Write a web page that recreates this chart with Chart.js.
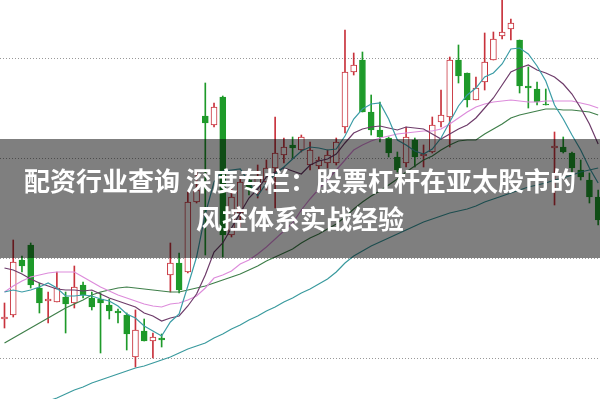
<!DOCTYPE html>
<html>
<head>
<meta charset="utf-8">
<script src="https://cdn.jsdelivr.net/npm/chart.js@4"></script>
<style>
  body { margin: 0; background: #fff; }
  #wrap { position: relative; width: 600px; height: 399px; overflow: hidden; }
  #band {
    position: absolute; left: 0; top: 139px; width: 600px; height: 119px;
    background: rgba(0, 0, 0, 0.5); color: #fff;
    font: bold 26px "Noto Sans CJK SC", sans-serif; line-height: 38px;
    text-align: center; display: flex; flex-direction: column; justify-content: center;
  }
</style>
</head>
<body>
<div id="wrap">
  <canvas id="kline" width="600" height="399"></canvas>
  <div id="band">
    <div>配资行业查询 深度专栏：股票杠杆在亚太股市的</div>
    <div>风控体系实战经验</div>
  </div>
</div>
<script>
const days = [...Array(69).keys()];   // trading day index, left to right

const opens = [1039,1043,1098,1113,1070,1057,1056,1061,1055,1073, 1060,1059,1053,1047,1043,1001,1027,1017,1020,1083,
  1095,1086,1156,1242,1233,1261,1123,1145,1178,1166, 1176,1190,1203,1213,1208,1193,1192,1195,1195,1231,
  1286,1298,1246,1228,1220,1201,1195,1218,1202,1206, 1236,1241,1298,1285,1258,1276,1298,1322,1329,1318,
  1272,1269,1254,1210,1211,1205,1188,1178,1161];
const closes = [1041,1096,1092,1073,1055,1059,1070,1054,1071,1063, 1051,1055,1047,1045,1024,1028,1017,1021,1018,1095,
  1068,1156,1168,1235,1251,1123,1161,1176,1168,1180, 1190,1205,1211,1210,1221,1208,1198,1203,1216,1286,
  1293,1246,1228,1221,1205,1188,1221,1201,1204,1233, 1243,1298,1282,1258,1270,1296,1319,1326,1335,1272,
  1270,1256,1253,1212,1206,1190,1181,1161,1138];
const highs = [1055,1118,1102,1115,1075,1066,1086,1066,1092,1076, 1066,1065,1059,1049,1045,1048,1039,1025,1024,1115,
  1105,1166,1186,1275,1255,1262,1171,1181,1186,1193, 1198,1241,1220,1221,1223,1216,1201,1208,1220,1328,
  1305,1306,1263,1256,1221,1206,1231,1220,1213,1241, 1268,1301,1313,1285,1281,1325,1326,1365,1339,1318,
  1291,1276,1269,1226,1221,1206,1198,1185,1168];
const lows = [1030,1041,1086,1070,1045,1035,1056,1025,1050,1060, 1048,1005,1039,1035,1008,991,1017,1000,1011,1066,
  1065,1085,1155,1103,1231,1101,1121,1131,1163,1160, 1168,1150,1195,1200,1206,1188,1188,1190,1193,1225,
  1283,1246,1223,1216,1201,1186,1191,1191,1191,1205, 1231,1211,1275,1251,1258,1268,1298,1319,1318,1265,
  1250,1253,1253,1153,1205,1185,1178,1155,1133];

const ma5 = [1066,1068,1066,1068,1071,1075,1070,1062,1062,1063, 1062,1059,1057,1052,1044,1040,1032,1027,1022,1036,
  1044,1072,1101,1144,1176,1187,1188,1189,1176,1162, 1175,1184,1191,1199,1207,1211,1210,1208,1209,1222,
  1239,1249,1254,1255,1239,1218,1213,1207,1204,1209, 1220,1236,1252,1263,1270,1281,1285,1294,1309,1310,
  1304,1292,1277,1253,1239,1223,1208,1190,1175];
const ma10 = [1090,1088,1084,1079,1075,1072,1069,1068,1068,1067, 1068,1064,1060,1057,1054,1051,1045,1042,1037,1040,
  1042,1052,1064,1083,1106,1115,1130,1145,1160,1169, 1181,1186,1190,1187,1184,1193,1197,1199,1204,1215,
  1225,1229,1231,1232,1230,1228,1231,1230,1229,1224, 1219,1224,1229,1233,1240,1250,1260,1273,1286,1290,
  1293,1288,1285,1281,1274,1264,1250,1234,1214];
const ma20 = [1066,1072,1077,1081,1083,1085,1086,1086,1086,1081, 1076,1071,1067,1063,1060,1057,1054,1052,1051,1054,
  1055,1058,1062,1070,1080,1083,1087,1094,1098,1104, 1111,1119,1127,1135,1148,1159,1169,1178,1188,1198,
  1208,1213,1217,1220,1222,1224,1225,1226,1227,1227, 1229,1234,1240,1246,1251,1254,1256,1257,1258,1257,
  1256,1256,1257,1257,1257,1257,1255,1253,1250];
const ma30 = [1015,1020,1025,1030,1035,1040,1045,1050,1054,1058, 1063,1066,1068,1070,1071,1070,1069,1068,1067,1066,
  1066,1068,1070,1072,1075,1078,1081,1084,1088,1092, 1097,1101,1105,1109,1115,1120,1124,1129,1134,1141,
  1149,1156,1162,1167,1173,1179,1186,1192,1198,1202, 1208,1213,1217,1218,1218,1224,1229,1234,1240,1243,
  1245,1247,1249,1249,1248,1248,1247,1246,1243];
const ma60 = [938,942,945,949,953,957,960,964,968,971, 975,978,981,984,987,990,992,995,998,1001,
  1005,1009,1012,1015,1020,1024,1029,1033,1038,1042, 1047,1051,1056,1060,1065,1069,1074,1079,1086,1095,
  1102,1107,1112,1116,1120,1124,1128,1132,1136,1139, 1142,1145,1147,1149,1152,1156,1159,1162,1165,1168,
  1171,1173,1175,1178,1180,1183,1186,1188,1190];

const gridVals = [1000, 1100, 1200, 1300];

const RED = '#c8323c';
const GREEN = '#1e9a2a';
const isUp = i => closes[i] >= opens[i];

function maLine(data, color) {
  return {
    type: 'line',
    data: days.map(i => ({ x: i, y: data[i] })),
    borderColor: color,
    borderWidth: 1.2,
    pointRadius: 0,
    tension: 0,
    order: 1
  };
}

new Chart(document.getElementById('kline').getContext('2d'), {
  type: 'bar',
  data: {
    datasets: [
      {
        // wicks
        data: days.map(i => ({ x: i, y: [lows[i], highs[i]] })),
        backgroundColor: c => isUp(c.dataIndex) ? RED : GREEN,
        borderWidth: 0,
        barThickness: 1,
        grouped: false,
        order: 3
      },
      {
        // bodies
        data: days.map(i => ({ x: i, y: [opens[i], closes[i]] })),
        backgroundColor: c => isUp(c.dataIndex) ? '#fff' : GREEN,
        borderColor: c => isUp(c.dataIndex) ? RED : GREEN,
        borderWidth: 1,
        borderSkipped: false,
        barThickness: 6,
        grouped: false,
        order: 2
      },
      maLine(ma5, '#3b9ca6'),
      maLine(ma10, '#6e3c6a'),
      maLine(ma20, '#dd8cdb'),
      maLine(ma30, '#3f7f4a'),
      maLine(ma60, '#3a9a9e')
    ]
  },
  options: {
    responsive: false,
    animation: false,
    layout: { padding: 0 },
    plugins: { legend: { display: false }, tooltip: { enabled: false } },
    scales: {
      x: { type: 'linear', min: -0.515, max: 68.21, offset: false, display: false },
      y: {
        min: 959, max: 1358,
        afterBuildTicks: axis => { axis.ticks = gridVals.map(v => ({ value: v })); },
        ticks: { display: false },
        grid: { color: '#999', drawTicks: false },
        border: { display: false, dash: [1, 2] }
      }
    }
  }
});
</script>
</body>
</html>
